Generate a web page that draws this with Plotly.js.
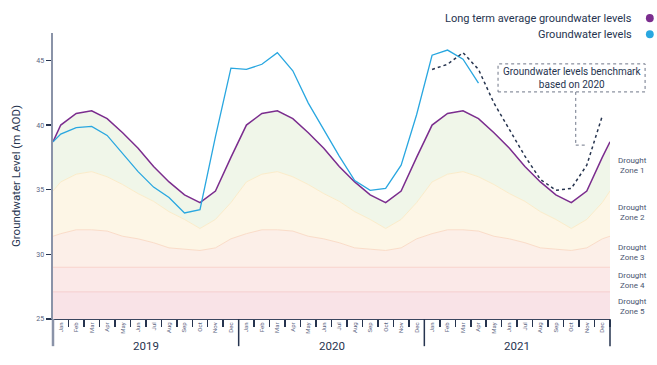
<!DOCTYPE html>
<html>
<head>
<meta charset="utf-8">
<script src="https://cdn.plot.ly/plotly-3.0.1.min.js"></script>
<style>html,body{margin:0;padding:0;background:#fff;}#chart{width:657px;height:365px;}</style>
</head>
<body>
<div id="chart"></div>
<script>
// ---- Data ----
const months = ['Jan','Feb','Mar','Apr','May','Jun','Jul','Aug','Sep','Oct','Nov','Dec'];
const years = ['2019','2020','2021'];

// Long term average groundwater level (monthly, Jan 2019 - Dec 2021)
const ltaValues = [
  40.0, 40.9, 41.1, 40.5, 39.4, 38.2, 36.8, 35.6, 34.6, 34.0, 34.9, 37.5,
  40.0, 40.9, 41.1, 40.5, 39.4, 38.2, 36.8, 35.6, 34.6, 34.0, 34.9, 37.5,
  40.0, 40.9, 41.1, 40.5, 39.4, 38.2, 36.8, 35.6, 34.6, 34.0, 34.9, 37.5
];
const ltaEdges = [38.7, 38.7];

// Drought zone 2 upper boundary
const zone2Top = [
  35.6, 36.2, 36.4, 36.0, 35.4, 34.7, 34.1, 33.3, 32.7, 32.0, 32.7, 34.0,
  35.6, 36.2, 36.4, 36.0, 35.4, 34.7, 34.1, 33.3, 32.7, 32.0, 32.7, 34.0,
  35.6, 36.2, 36.4, 36.0, 35.4, 34.7, 34.1, 33.3, 32.7, 32.0, 32.7, 34.0
];
const zone2Edges = [34.9, 34.9];

// Drought zone 3 upper boundary
const zone3Top = [
  31.6, 31.9, 31.9, 31.8, 31.4, 31.2, 30.9, 30.5, 30.4, 30.3, 30.5, 31.2,
  31.6, 31.9, 31.9, 31.8, 31.4, 31.2, 30.9, 30.5, 30.4, 30.3, 30.5, 31.2,
  31.6, 31.9, 31.9, 31.8, 31.4, 31.2, 30.9, 30.5, 30.4, 30.3, 30.5, 31.2
];
const zone3Edges = [31.4, 31.4];

const zone4Top = 29.0;
const zone5Top = 27.1;
const axisBottom = 25;

// Groundwater levels (Jan 2019 - Apr 2021)
const gwLevels = [
  39.3, 39.8, 39.9, 39.2, 37.8, 36.4, 35.2, 34.4, 33.2, 33.45, 39.1, 44.4,
  44.3, 44.7, 45.6, 44.2, 41.7, 39.6, 37.6, 35.7, 34.95, 35.1, 36.9, 40.8,
  45.4, 45.8, 45.1, 43.25
];
const gwStart = 38.7;

// Benchmark based on 2020 (Jan - Dec 2021)
const benchmark = [44.3, 44.7, 45.6, 44.3, 41.7, 39.6, 37.6, 35.8, 34.95, 35.1, 36.9, 40.7];

const zoneLabels = ['Drought<br>Zone 1','Drought<br>Zone 2','Drought<br>Zone 3','Drought<br>Zone 4','Drought<br>Zone 5'];
const legendLabels = ['Long term average groundwater levels', 'Groundwater levels'];

// ---- Build ----
const nM = months.length * years.length;
const xMid = Array.from({length: nM}, (_, i) => i + 0.5);
const xFull = [0].concat(xMid, [nM]);
const full = (vals, edges) => [edges[0]].concat(vals, [edges[1]]);
const flat = v => xFull.map(() => v);

const PURPLE = '#7b2d8e', BLUE = '#29a7e0', NAVY = '#26344f';

const traces = [
  {x: xFull, y: flat(axisBottom), mode: 'lines', line: {width: 0}, hoverinfo: 'skip'},
  {x: xFull, y: flat(zone5Top), mode: 'lines', fill: 'tonexty', fillcolor: '#f9e3e7', line: {color: '#f5cdcd', width: 1}},
  {x: xFull, y: flat(zone4Top), mode: 'lines', fill: 'tonexty', fillcolor: '#fbe9e8', line: {color: '#f8d3cb', width: 1}},
  {x: xFull, y: full(zone3Top, zone3Edges), mode: 'lines', fill: 'tonexty', fillcolor: '#fcefe8', line: {color: '#fadcc8', width: 1}},
  {x: xFull, y: full(zone2Top, zone2Edges), mode: 'lines', fill: 'tonexty', fillcolor: '#fdf6e6', line: {color: '#fbecca', width: 1}},
  {x: xFull, y: full(ltaValues, ltaEdges), mode: 'lines', fill: 'tonexty', fillcolor: '#f0f6e9', line: {color: PURPLE, width: 1.5}},
  {x: [0].concat(xMid.slice(0, gwLevels.length)), y: [gwStart].concat(gwLevels), mode: 'lines', line: {color: BLUE, width: 1.3}},
  {x: xMid.slice(24, 24 + benchmark.length), y: benchmark, mode: 'lines', line: {color: NAVY, width: 1.5, dash: 'dot'}}
];

const tickText = [];
years.forEach(() => months.forEach(m => tickText.push(m)));

const annotations = [];
years.forEach((yr, k) => annotations.push({
  xref: 'x', yref: 'paper', x: k * 12 + 6, y: -0.095, text: yr, showarrow: false,
  yanchor: 'middle', font: {family: 'Roboto', size: 11.5, color: NAVY}
}));
const zoneY = [0.535, 0.372, 0.234, 0.133, 0.042];
zoneLabels.forEach((t, i) => annotations.push({
  xref: 'paper', yref: 'paper', x: 1.041, y: zoneY[i], text: t, showarrow: false,
  xanchor: 'center', yanchor: 'middle', align: 'center',
  font: {family: 'Roboto', size: 8, color: '#4a5570'}
}));
// legend text
annotations.push({xref: 'paper', yref: 'paper', x: 1.043, y: 1.052, text: legendLabels[0], showarrow: false,
  xanchor: 'right', yanchor: 'middle', font: {family: 'Roboto', size: 11, color: NAVY}});
annotations.push({xref: 'paper', yref: 'paper', x: 1.043, y: 0.996, text: legendLabels[1], showarrow: false,
  xanchor: 'right', yanchor: 'middle', font: {family: 'Roboto', size: 11, color: NAVY}});
// benchmark note
annotations.push({xref: 'paper', yref: 'paper', x: 0.931, y: 0.843, text: 'Groundwater levels benchmark<br>based on 2020',
  showarrow: false, xanchor: 'center', yanchor: 'middle', align: 'center',
  font: {family: 'Roboto', size: 10, color: NAVY}});

const shapes = [
  // legend dots
  {type: 'circle', xref: 'paper', yref: 'paper', x0: 1.0645, x1: 1.0785, y0: 1.038, y1: 1.066, fillcolor: PURPLE, line: {width: 0}},
  {type: 'circle', xref: 'paper', yref: 'paper', x0: 1.0645, x1: 1.0785, y0: 0.982, y1: 1.010, fillcolor: BLUE, line: {width: 0}},
  // note box and connector
  {type: 'rect', xref: 'paper', yref: 'paper', x0: 0.799, x1: 1.063, y0: 0.794, y1: 0.892, line: {color: '#6f7688', width: 1, dash: 'dot'}},
  {type: 'line', xref: 'paper', yref: 'paper', x0: 0.9385, x1: 0.9385, y0: 0.794, y1: 0.608, line: {color: '#6f7688', width: 1, dash: 'dot'}},
  {type: 'line', xref: 'paper', yref: 'paper', x0: 0.9385, x1: 0.9585, y0: 0.608, y1: 0.608, line: {color: '#6f7688', width: 1, dash: 'dot'}},
  // y axis extension below plot
  {type: 'line', xref: 'paper', yref: 'paper', x0: 0, x1: 0, y0: 0, y1: -0.095, line: {color: '#8a93a8', width: 2.5}},
];
[1, 2, 3].forEach(k => shapes.push({type: 'line', xref: 'paper', yref: 'paper', x0: k / 3, x1: k / 3, y0: 0, y1: -0.095,
  line: {color: NAVY, width: 1.5}}));

const layout = {
  width: 657, height: 365,
  margin: {l: 53, r: 47, t: 33, b: 46},
  paper_bgcolor: '#fff', plot_bgcolor: '#fff',
  showlegend: false,
  xaxis: {
    range: [0, nM], showgrid: false, zeroline: false,
    tickmode: 'array', tickvals: xMid, ticktext: tickText, tickangle: -90,
    ticks: '', tickfont: {family: 'Roboto', size: 6, color: '#5a6480'},
    showline: true, linecolor: '#3a465f', linewidth: 1,
    minor: {tickmode: 'linear', tick0: 0, dtick: 1, ticks: 'outside', ticklen: 7, tickwidth: 1.5, tickcolor: NAVY}
  },
  yaxis: {
    range: [25, 47.12], showgrid: false, zeroline: false,
    tickmode: 'array', tickvals: [25, 30, 35, 40, 45],
    ticks: 'outside', ticklen: 5, tickwidth: 1.5, tickcolor: NAVY,
    tickfont: {family: 'Roboto', size: 7, color: '#5a6480'},
    showline: true, linecolor: '#8a93a8', linewidth: 2.5,
    title: {text: 'Groundwater Level (m AOD)', font: {family: 'Roboto', size: 11.5, color: NAVY}, standoff: 13}
  },
  annotations: annotations,
  shapes: shapes
};

Plotly.newPlot('chart', traces, layout, {displayModeBar: false, staticPlot: true});
</script>
</body>
</html>
